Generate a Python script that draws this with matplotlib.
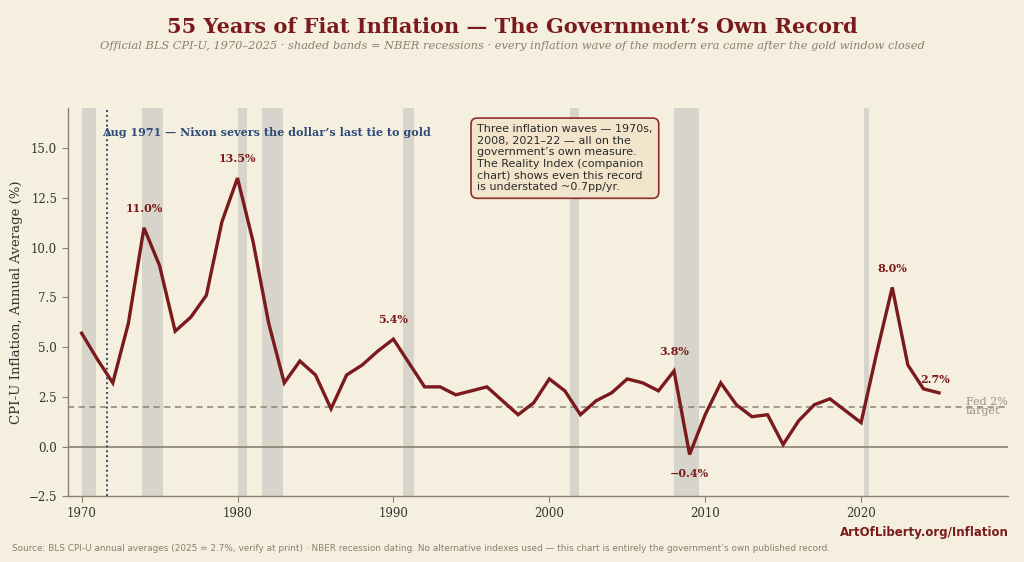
import matplotlib
matplotlib.use('Agg')
import matplotlib.pyplot as plt

years = list(range(1970, 2026))
cpi = [5.7, 4.4, 3.2, 6.2, 11.0, 9.1, 5.8, 6.5, 7.6, 11.3,
       13.5, 10.3, 6.2, 3.2, 4.3, 3.6, 1.9, 3.6, 4.1, 4.8,
       5.4, 4.2, 3.0, 3.0, 2.6, 2.8, 3.0, 2.3, 1.6, 2.2,
       3.4, 2.8, 1.6, 2.3, 2.7, 3.4, 3.2, 2.8, 3.8, -0.4,
       1.6, 3.2, 2.1, 1.5, 1.6, 0.1, 1.3, 2.1, 2.4, 1.8,
       1.2, 4.7, 8.0, 4.1, 2.9, 2.7]

recessions = [(1970.0, 1970.9), (1973.9, 1975.2), (1980.0, 1980.6),
              (1981.6, 1982.9), (1990.6, 1991.3), (2001.3, 2001.9),
              (2008.0, 2009.6), (2020.2, 2020.5)]

peak_years = [1974, 1980, 1990, 2008, 2022]
trough_years = [2009]
last_year = 2025

BG = '#f5efdf'
RED = '#7b1a1c'
GRID = '#8a8070'
NAVY = '#2e4a7a'

plt.rcParams['font.family'] = 'DejaVu Serif'

fig = plt.figure(figsize=(10.24, 5.62), dpi=100)
fig.patch.set_facecolor(BG)
ax = fig.add_axes([0.066, 0.117, 0.918, 0.69])
ax.set_facecolor(BG)

for a, b in recessions:
    ax.axvspan(a, b, color='#d6d4cb', zorder=0, lw=0)

ax.axhline(0, color='#8a8272', lw=1.2, zorder=1)
ax.axhline(2, color='#8a8272', lw=1.1, ls=(0, (4, 3)), zorder=1)
ax.text(2026.7, 2, 'Fed 2%\ntarget', fontsize=8, color='#9a9282',
        ha='left', va='center', linespacing=0.85)

ax.axvline(1971.6, color=NAVY, lw=1.4, ls=(0, (1, 1.5)), zorder=2)
ax.text(1971.3, 15.8, 'Aug 1971 \u2014 Nixon severs the dollar\u2019s last tie to gold',
        fontsize=8, fontweight='bold', color=NAVY, ha='left', va='center')

ax.plot(years, cpi, color=RED, lw=2.4, zorder=3, solid_joinstyle='miter')

for yr in peak_years:
    v = cpi[years.index(yr)]
    ax.annotate(f'{v:.1f}%', (yr, v), textcoords='offset points', xytext=(0, 10),
                ha='center', va='bottom', fontsize=8, fontweight='bold', color=RED)
for yr in trough_years:
    v = cpi[years.index(yr)]
    ax.annotate(f'\u2212{abs(v):.1f}%', (yr, v), textcoords='offset points', xytext=(0, -10),
                ha='center', va='top', fontsize=8, fontweight='bold', color=RED)
v = cpi[years.index(last_year)]
ax.annotate(f'{v:.1f}%', (last_year, v), textcoords='offset points', xytext=(-3, 6),
            ha='center', va='bottom', fontsize=8, fontweight='bold', color=RED)

ax.text(2001.0, 14.5,
        'Three inflation waves \u2014 1970s,\n2008, 2021\u201322 \u2014 all on the\n'
        'government\u2019s own measure.\nThe Reality Index (companion\n'
        'chart) shows even this record\nis understated ~0.7pp/yr.',
        family='DejaVu Sans', fontsize=8, color='#2a2a2a', ha='center', va='center',
        multialignment='left', linespacing=1.2,
        bbox=dict(boxstyle='round,pad=0.55', fc='#f2e5cb', ec='#8b2e2e', lw=1.2))

ax.set_xlim(1969.1, 2029.4)
ax.set_ylim(-2.5, 17)
ax.set_yticks([-2.5, 0, 2.5, 5, 7.5, 10, 12.5, 15])
ax.set_yticklabels(['\u22122.5', '0.0', '2.5', '5.0', '7.5', '10.0', '12.5', '15.0'])
ax.set_xticks([1970, 1980, 1990, 2000, 2010, 2020])
ax.tick_params(labelsize=8.5, colors='#333333', length=4, color=GRID)
for s in ['top', 'right']:
    ax.spines[s].set_visible(False)
for s in ['left', 'bottom']:
    ax.spines[s].set_color(GRID)
    ax.spines[s].set_linewidth(1.0)
ax.set_ylabel('CPI-U Inflation, Annual Average (%)', fontsize=9.5, color='#333333')

fig.text(0.5, 0.952, '55 Years of Fiat Inflation \u2014 The Government\u2019s Own Record',
         ha='center', va='center', fontsize=15, fontweight='bold', color=RED)
fig.text(0.5, 0.918, 'Official BLS CPI-U, 1970\u20132025 \u00b7 shaded bands = NBER recessions \u00b7 '
         'every inflation wave of the modern era came after the gold window closed',
         ha='center', va='center', fontsize=8.2, style='italic', color='#8a8070')
fig.text(0.985, 0.052, 'ArtOfLiberty.org/Inflation', ha='right', va='center',
         family='DejaVu Sans', fontsize=8.5, fontweight='bold', color=RED)
fig.text(0.012, 0.024, 'Source: BLS CPI-U annual averages (2025 \u2248 2.7%, verify at print) \u00b7 '
         'NBER recession dating. No alternative indexes used \u2014 this chart is entirely '
         'the government\u2019s own published record.',
         ha='left', va='center', family='DejaVu Sans', fontsize=6.4, color='#8a8070')

fig.savefig('out.png', dpi=100, facecolor=BG)
